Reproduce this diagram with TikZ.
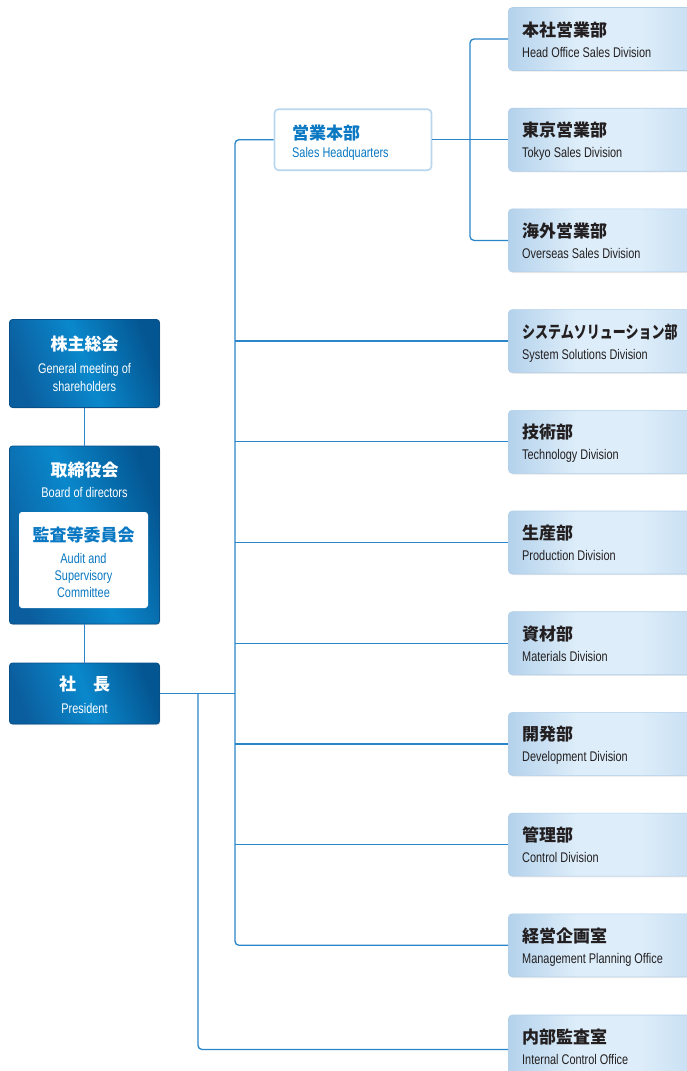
\documentclass[tikz,border=0pt]{standalone}
\usepackage{fontspec}
\setmainfont{Liberation Sans}
\newfontfamily\en[FakeStretch=0.78]{Liberation Sans}
\newfontfamily\jp{Noto Sans CJK JP}
\usetikzlibrary{calc,shadows}
\definecolor{dkA}{HTML}{0B5E9E}
\definecolor{dkB}{HTML}{0A88CC}
\definecolor{dkC}{HTML}{045692}
\definecolor{dkD}{HTML}{07508A}
\definecolor{lbA}{HTML}{B4D2EC}
\definecolor{lbB}{HTML}{DDEDF9}
\definecolor{lbC}{HTML}{C2DBF1}
\definecolor{lbD}{HTML}{B0CFEA}
\definecolor{hqD}{HTML}{B9D6EF}
\definecolor{lnA}{HTML}{2A86C8}
\definecolor{txB}{HTML}{0A78C2}
\definecolor{txK}{HTML}{231F20}
\pgfdeclarehorizontalshading{lightbox}{100bp}{color(0bp)=(lbA); color(25bp)=(lbA); color(42bp)=(lbB); color(58bp)=(lbB); color(75bp)=(lbC); color(100bp)=(lbC)}
\pgfdeclarehorizontalshading{darkbox}{100bp}{color(0bp)=(dkA); color(25bp)=(dkA); color(50bp)=(dkB); color(75bp)=(dkC); color(100bp)=(dkC)}
\newcommand\rbox[4]{%
  \node[lbox] (#1) at (508,#2) {};
  \node[jpK, anchor=base west] (#1j) at (522,#2-3) {#3};
  \node[enK, anchor=base west] (#1e) at (522,#2+18) {#4};
}
\begin{document}
\begin{tikzpicture}[x=1pt,y=-1pt,
  lbox/.style={draw=lbD, line width=0.6pt, rounded corners=4pt, shading=lightbox,
    minimum width=200pt, minimum height=63pt, anchor=west, inner sep=0pt,
    drop shadow={opacity=0.18, shadow xshift=1pt, shadow yshift=-1.2pt}},
  dbox/.style={draw=dkD, line width=0.8pt, rounded corners=3pt, shading=darkbox, shading angle=20,
    minimum width=150pt, inner sep=0pt,
    drop shadow={opacity=0.25, shadow xshift=0.8pt, shadow yshift=-1pt}},
  jpK/.style={font=\jp\bfseries\fontsize{17}{20}\selectfont, text=txK, inner sep=0pt},
  enK/.style={font=\en\fontsize{14}{16}\selectfont, text=txK, inner sep=0pt},
  jpW/.style={font=\jp\bfseries\fontsize{17}{20}\selectfont, text=white, inner sep=0pt, anchor=base},
  enW/.style={font=\en\fontsize{14}{16}\selectfont, text=white, inner sep=0pt, anchor=base},
  jpB/.style={font=\jp\bfseries\fontsize{17}{20}\selectfont, text=txB, inner sep=0pt},
  enB/.style={font=\en\fontsize{14}{16}\selectfont, text=txB, inner sep=0pt},
  conn/.style={draw=lnA, line width=1.3pt}]
\useasboundingbox (0,0) rectangle (687,1071);
\clip (0,0) rectangle (687,1071);
% right column
\rbox{r1}{39}{本社営業部}{Head Office Sales Division}
\rbox{r2}{139.7}{東京営業部}{Tokyo Sales Division}
\rbox{r3}{240.4}{海外営業部}{Overseas Sales Division}
\rbox{r4}{341.1}{\scalebox{0.765}[1]{システムソリューション部}}{System Solutions Division}
\rbox{r5}{441.8}{技術部}{Technology Division}
\rbox{r6}{542.5}{生産部}{Production Division}
\rbox{r7}{643.2}{資材部}{Materials Division}
\rbox{r8}{743.9}{開発部}{Development Division}
\rbox{r9}{844.6}{管理部}{Control Division}
\rbox{r10}{945.3}{経営企画室}{Management Planning Office}
\rbox{r11}{1046.5}{内部監査室}{Internal Control Office}
% sales headquarters
\node[draw=hqD, line width=1.6pt, fill=white, rounded corners=4pt, minimum width=157pt, minimum height=61pt, inner sep=0pt] (hq) at (353,139.7) {};
\node[jpB, anchor=base west] (hqj) at (292,139) {営業本部};
\node[enB, anchor=base west] (hqe) at (292,157) {Sales Headquarters};
% left column
\node[dbox, minimum height=88pt] (gm) at (84.5,363.5) {};
\node[jpW] (gmj) at (84.5,350) {株主総会};
\node[enW] (gme1) at (84.5,373) {General meeting of};
\node[enW] (gme2) at (84.5,391) {shareholders};
\node[dbox, minimum height=178pt] (bd) at (84.5,535) {};
\node[jpW] (bdj) at (84.5,476) {取締役会};
\node[enW] (bde) at (84.5,497) {Board of directors};
\node[fill=white, rounded corners=3pt, minimum width=129pt, minimum height=96pt, inner sep=0pt] (ac) at (83.5,560) {};
\node[jpB, anchor=base] (acj) at (83.5,541) {監査等委員会};
\node[enB, anchor=base] (ace1) at (83.5,563) {Audit and};
\node[enB, anchor=base] (ace2) at (83.5,580) {Supervisory};
\node[enB, anchor=base] (ace3) at (83.5,597) {Committee};
\node[dbox, minimum height=61pt] (pr) at (84.5,693.5) {};
\node[jpW] (prj) at (84.5,690) {社　長};
\node[enW] (pre) at (84.5,713) {President};
% connectors
\coordinate (tx) at (235,0);
\coordinate (ux) at (198,0);
\coordinate (sx) at (470,0);
\draw[conn] (gm.south) -- (bd.north);
\draw[conn] (bd.south) -- (pr.north);
\draw[conn, rounded corners=4pt] (hq.west) -| (tx |- r10.west) -- (r10.west);
\foreach \r in {r4,r5,r6,r7,r8,r9} \draw[conn] (tx |- \r.west) -- (\r.west);
\draw[conn] (pr.east) -- (pr.east -| tx);
\draw[conn, rounded corners=4pt] (pr.east -| ux) |- ([yshift=-3pt]r11.west);
\draw[conn] (hq.east) -- (hq.east -| sx);
\draw[conn, rounded corners=4pt] (r1.west) -| (sx |- r3.west) -- (r3.west);
\draw[conn] (sx |- r2.west) -- (r2.west);
\end{tikzpicture}
\end{document}
